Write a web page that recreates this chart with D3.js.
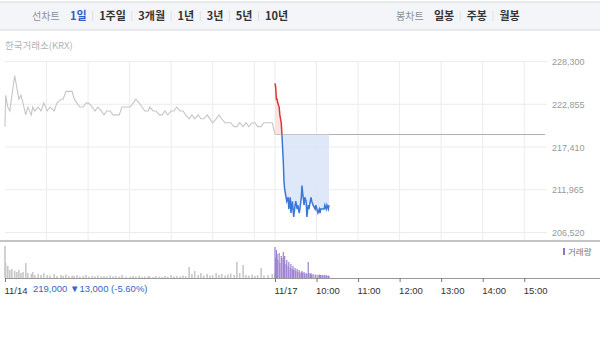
<!DOCTYPE html>
<html>
<head>
<meta charset="utf-8">
<script src="https://cdn.jsdelivr.net/npm/d3@7"></script>
<style>
  body { margin: 0; background: #fff; }
  text { font-family: "Liberation Sans", "Noto Sans CJK KR", sans-serif; }
  .kr { font-family: "Noto Sans CJK KR", sans-serif; }
</style>
</head>
<body>
<svg id="chart" width="600" height="344"></svg>
<script>
// ---- data ----
var prevTimes = ["09:00","09:01","09:04","09:07","09:10","09:14","09:17","09:20","09:23","09:26","09:30","09:33","09:38","09:40","09:43","09:48","09:52","09:56",
  "10:01","10:05","10:11","10:15","10:21","10:24","10:28","10:32","10:37","10:40","10:44","10:48","10:53","10:57",
  "11:01","11:06","11:10","11:14","11:19","11:23","11:27","11:32","11:36","11:40","11:45","11:49","11:55",
  "12:01","12:05","12:09","12:14","12:18","12:22","12:27","12:29","12:34","12:38","12:43","12:47","12:51","12:55",
  "13:00","13:04","13:08","13:13","13:17","13:21","13:26","13:30","13:34","13:39","13:43","13:47","13:52","13:56",
  "14:00","14:05","14:09","14:13","14:18","14:22","14:26","14:31","14:35","14:39","14:44","14:48","14:52","14:57",
  "15:01","15:05","15:10","15:14","15:20","15:26","15:30"]
var prevPrices = [220000,224000,222500,222000,224000,226500,225000,223500,224000,223000,221500,222500,221500,222500,222000,222500,222000,223000,
  222000,222500,222000,223000,223500,223500,224500,224500,224500,223500,223000,222500,222500,223000,
  223000,222500,222000,222500,222000,221500,222000,222000,221500,221500,221500,222500,222500,
  222500,223000,223500,223000,222500,222000,222000,222500,222000,222000,221500,221500,222000,221500,
  222000,222000,222500,222000,222000,221500,221000,221500,221000,221500,221000,221000,221500,221000,
  220500,221000,221500,221000,220500,220500,220500,220000,220000,220500,220000,220500,220000,220500,
  220500,220000,220000,220500,220500,220500,219000]
var prevVolumes = [32000,15000,12000,8000,9000,7000,6000,8000,5000,6000,15000,5000,4000,6000,3000,4000,3000,5000,
  3000,2500,4000,2000,3000,2000,3500,2000,2500,2000,3000,1500,2000,3000,
  1500,2000,1500,2500,1500,2000,1500,2500,1500,2000,1500,3000,1500,
  1500,2000,1500,2500,1000,1500,2000,1500,1000,2000,1500,1000,2000,1500,
  3000,1500,2000,1500,2500,2000,11000,4000,7000,3000,5000,2500,4000,2500,
  3000,5000,3000,4000,2500,3500,4500,3000,16000,5000,13000,3000,2500,3500,
  2000,3000,10000,2500,3000,4000,5000]

var todayTimes = ["09:00","09:01","09:02","09:03","09:04","09:06","09:07","09:09","09:10","09:12","09:13","09:14","09:16","09:17","09:19","09:20",
  "09:22","09:23","09:25","09:26","09:27","09:29","09:30","09:32","09:33","09:35","09:36","09:38","09:39","09:40","09:42","09:43",
  "09:45","09:46","09:48","09:49","09:51","09:52","09:53","09:55","09:58","09:59","10:02","10:04","10:05","10:06","10:08","10:09",
  "10:11","10:12","10:14","10:15","10:17","10:18"]
var todayPrices = [225500,225000,223500,223500,223000,222500,221500,220500,219000,215500,213000,212000,211000,210500,211000,209500,
  211000,209000,210500,209500,208500,210000,210500,209500,210000,209000,209500,211000,212500,211500,210000,211000,
  210500,208500,210000,209500,210500,211000,210500,210000,209500,210000,209000,209500,209000,209500,209500,209500,
  209500,210000,209500,210000,209500,210000]
var todayVolumes = [31000,20000,28000,24000,18000,25000,15000,22000,20000,26000,17000,22000,14000,18000,12000,16000,
  10000,14000,9000,12000,8000,10000,7000,9000,6000,8000,5000,6000,7000,5000,6000,4000,
  5000,4000,16000,5000,4000,5000,3000,4000,3000,3500,3000,3500,2500,3000,3000,2500,
  3000,2500,3000,2000,2500,2000]

var refPrice = 219000
var yTicks = [206520, 211965, 217410, 222855, 228300]
var hourTicks = ["10:00","11:00","12:00","13:00","14:00","15:00"]
var dayLabels = ["11/14","11/17"]
var periodTabs = ["1일","1주일","3개월","1년","3년","5년","10년"]
var candleTabs = ["일봉","주봉","월봉"]

// ---- scales ----
var svg = d3.select("#chart")
var sessionLen = 390 // 09:00 ~ 15:30
function toMin(t, day) {
  var p = t.split(":").map(Number)
  return day * sessionLen + (p[0] - 9) * 60 + p[1]
}
var x = d3.scaleLinear().domain([0, 2 * sessionLen]).range([5, 545])
var y = d3.scaleLinear().domain([206520, 228300]).range([232.5, 61.5])
var yv = d3.scaleLinear().domain([0, 34000]).range([278, 244])

var prev = prevTimes.map((t, i) => ({m: toMin(t, 0), p: prevPrices[i], v: prevVolumes[i]}))
var today = todayTimes.map((t, i) => ({m: toMin(t, 1), p: todayPrices[i], v: todayVolumes[i]}))

// ---- top tab bar ----
svg.append("rect").attr("x", -1).attr("y", 2).attr("width", 602).attr("height", 28)
  .attr("fill", "#f4f5f8").attr("stroke", "#d6d9de")

function tabTitle(startX, title) {
  svg.append("text").attr("class", "kr").attr("x", startX).attr("y", 20)
    .attr("font-size", 10).attr("fill", "#8a8f99").text(title)
}
tabTitle(32, "선차트")
tabTitle(396, "봉차트")
function tabItems(startX, items, activeIdx) {
  var cx = startX
  items.forEach(function(lab, i) {
    var t = svg.append("text").attr("class", "kr").attr("x", cx).attr("y", 20)
      .attr("font-size", 11).attr("font-weight", "bold")
      .attr("fill", i === activeIdx ? "#2f5fc4" : "#333").text(lab)
    var w = t.node().getComputedTextLength()
    if (i < items.length - 1) {
      svg.append("line").attr("x1", cx + w + 6).attr("x2", cx + w + 6)
        .attr("y1", 11).attr("y2", 21).attr("stroke", "#dcdfe3")
    }
    cx += w + 12.5
  })
}
tabItems(70, periodTabs, 0)
tabItems(434, candleTabs, -1)

svg.append("text").attr("class", "kr").attr("x", 5).attr("y", 49)
  .attr("font-size", 9.5).attr("fill", "#b0b3b8").text("한국거래소(KRX)")

// ---- grid ----
var grid = svg.append("g")
var vLines = [1, 2, 3, 4, 5, 6].map(h => h * 60)
  .concat([sessionLen])
  .concat(hourTicks.map(t => toMin(t, 1)))
grid.selectAll("line.v").data(vLines).enter().append("line")
  .attr("x1", d => x(d)).attr("x2", d => x(d))
  .attr("y1", y(228300)).attr("y2", 240)
  .attr("stroke", "#ececec")
grid.selectAll("line.h").data(yTicks).enter().append("line")
  .attr("x1", 5).attr("x2", 547)
  .attr("y1", d => y(d)).attr("y2", d => y(d))
  .attr("stroke", "#ececec")

svg.append("g").selectAll("text").data(yTicks).enter().append("text")
  .attr("x", 552).attr("y", d => y(d) + 3.5)
  .attr("font-size", 9).attr("fill", "#999")
  .text(d => d3.format(",")(d))

// ---- previous close reference line ----
svg.append("line")
  .attr("x1", x(sessionLen)).attr("x2", 545)
  .attr("y1", y(refPrice)).attr("y2", y(refPrice))
  .attr("stroke", "#b0b0b0")

// ---- price lines ----
var line = d3.line().x(d => x(d.m)).y(d => y(d.p))
svg.append("path").datum(prev).attr("d", line)
  .attr("fill", "none").attr("stroke", "#c6c6c6").attr("stroke-width", 1.1)

var defs = svg.append("defs")
defs.append("clipPath").attr("id", "above").append("rect")
  .attr("x", 0).attr("y", 0).attr("width", 600).attr("height", y(refPrice))
defs.append("clipPath").attr("id", "below").append("rect")
  .attr("x", 0).attr("y", y(refPrice)).attr("width", 600).attr("height", 344)

var area = d3.area().x(d => x(d.m)).y0(y(refPrice)).y1(d => y(d.p))
svg.append("path").datum(today).attr("d", area).attr("clip-path", "url(#above)")
  .attr("fill", "#fbe0e0").attr("opacity", 0.9)
svg.append("path").datum(today).attr("d", area).attr("clip-path", "url(#below)")
  .attr("fill", "#dbe6f8").attr("opacity", 0.9)
svg.append("path").datum(today).attr("d", line).attr("clip-path", "url(#above)")
  .attr("fill", "none").attr("stroke", "#e5312d").attr("stroke-width", 1.5)
svg.append("path").datum(today).attr("d", line).attr("clip-path", "url(#below)")
  .attr("fill", "none").attr("stroke", "#3b78d6").attr("stroke-width", 1.5)

// ---- panel separator ----
svg.append("line").attr("x1", 0).attr("x2", 600).attr("y1", 241).attr("y2", 241)
  .attr("stroke", "#c4c4c4").attr("stroke-width", 2)

// ---- volume ----
svg.append("g").selectAll("rect").data(prev).enter().append("rect")
  .attr("x", d => x(d.m) - 0.8).attr("width", 1.6)
  .attr("y", d => yv(d.v)).attr("height", d => yv(0) - yv(d.v))
  .attr("fill", "#c8c8c8")
svg.append("g").selectAll("rect").data(today).enter().append("rect")
  .attr("x", d => x(d.m) - 0.6).attr("width", 1.2)
  .attr("y", d => yv(d.v)).attr("height", d => yv(0) - yv(d.v))
  .attr("fill", "#9c80d2")

svg.append("rect").attr("x", 563).attr("y", 248).attr("width", 2).attr("height", 7).attr("fill", "#8d70cc")
svg.append("text").attr("class", "kr").attr("x", 568).attr("y", 255)
  .attr("font-size", 8.5).attr("fill", "#777").text("거래량")

// ---- bottom axis ----
var tickVals = [0, sessionLen].concat(hourTicks.map(t => toMin(t, 1)))
var tickLabs = dayLabels.concat(hourTicks)
var axis = d3.axisBottom(x).tickValues(tickVals).tickSize(4)
  .tickFormat((d, i) => tickLabs[i])
var ax = svg.append("g").attr("transform", "translate(0,278)").call(axis)
ax.select(".domain").attr("d", "M5,0.5H600").attr("stroke", "#999")
ax.selectAll(".tick line").attr("stroke", "#777")
ax.selectAll(".tick text").attr("text-anchor", "start").attr("dx", -1).attr("y", 9)
  .attr("font-size", 9.5).attr("fill", "#333")
  .style("font-family", "'Liberation Sans', sans-serif")

svg.append("text").attr("x", 33).attr("y", 291.5).attr("font-size", 9.5).attr("fill", "#3566c8")
  .text("219,000 ▼13,000 (-5.60%)")
</script>
</body>
</html>
